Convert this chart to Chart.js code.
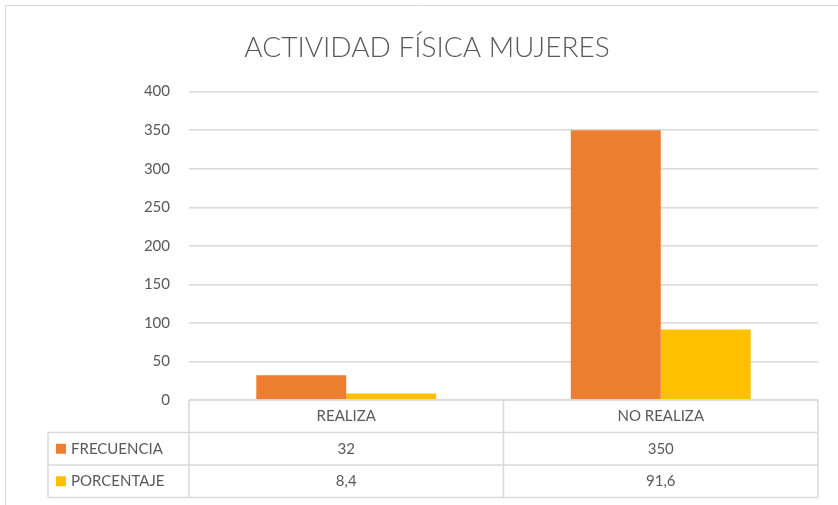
<!DOCTYPE html>
<html>
<head>
<meta charset="utf-8">
<script src="https://cdn.jsdelivr.net/npm/chart.js@4.4.0/dist/chart.umd.min.js"></script>
<style>
  html, body { margin: 0; padding: 0; background: #ffffff; }
  #wrap { width: 838px; height: 505px; position: relative; }
</style>
</head>
<body>
<div id="wrap"><canvas id="myChart" width="838" height="505"></canvas></div>
<script>
// Actividad fisica mujeres - grafico de barras con tabla de datos (estilo Excel)
const categories = ["REALIZA", "NO REALIZA"];
const frecuencia = [32, 350];
const porcentaje = [8.4, 91.6];
const frecuenciaText = ["32", "350"];
const porcentajeText = ["8,4", "91,6"];

const orange = "#ED7D31";
const yellow = "#FFC000";
const gridGray = "#D9D9D9";
const textGray = "#595959";
const fontName = "Lato";

Chart.defaults.font.family = fontName;
Chart.defaults.color = textGray;

// draws the Excel data table under the plot, using the x scale for the columns
const dataTable = {
    id: "dataTable",
    afterDraw(chart) {
        const ctx = chart.ctx;
        const x = chart.scales.x;
        const area = chart.chartArea;
        const rowH = 32.5;
        const top = area.bottom;
        const leftCol = 48;
        const half = (x.getPixelForValue(1) - x.getPixelForValue(0)) / 2;
        const edges = [area.left];
        categories.forEach((c, i) => edges.push(x.getPixelForValue(i) + half));

        ctx.save();
        ctx.strokeStyle = gridGray;
        ctx.lineWidth = 1.5;
        ctx.beginPath();
        // horizontal lines
        ctx.moveTo(area.left, top); ctx.lineTo(area.right, top);
        for (let r = 1; r <= 3; r++) {
            ctx.moveTo(leftCol, top + r * rowH); ctx.lineTo(area.right, top + r * rowH);
        }
        // vertical lines
        edges.forEach(e => { ctx.moveTo(e, top); ctx.lineTo(e, top + 3 * rowH); });
        ctx.moveTo(leftCol, top + rowH); ctx.lineTo(leftCol, top + 3 * rowH);
        ctx.stroke();

        ctx.fillStyle = textGray;
        ctx.font = "15px " + fontName;
        ctx.textAlign = "center";
        ctx.textBaseline = "middle";
        categories.forEach((c, i) => {
            const cx = x.getPixelForValue(i);
            ctx.fillText(c, cx, top + rowH * 0.5);
            ctx.fillText(frecuenciaText[i], cx, top + rowH * 1.5);
            ctx.fillText(porcentajeText[i], cx, top + rowH * 2.5);
        });

        // series names with colour keys
        ctx.textAlign = "left";
        chart.data.datasets.forEach((ds, j) => {
            const cy = top + rowH * (1.5 + j);
            ctx.fillStyle = ds.backgroundColor;
            ctx.fillRect(56, cy - 5, 10, 10);
            ctx.fillStyle = textGray;
            ctx.fillText(ds.label, 71, cy);
        });

        // outer chart border
        ctx.strokeStyle = gridGray;
        ctx.lineWidth = 1;
        ctx.beginPath();
        ctx.moveTo(5.5, 505); ctx.lineTo(5.5, 5.5); ctx.lineTo(838, 5.5);
        ctx.stroke();
        ctx.restore();
    }
};

const data = {
    labels: categories,
    datasets: [
        {
            label: "FRECUENCIA",
            data: frecuencia,
            backgroundColor: orange,
            categoryPercentage: 0.572,
            barPercentage: 1.0,
        },
        {
            label: "PORCENTAJE",
            data: porcentaje,
            backgroundColor: yellow,
            categoryPercentage: 0.572,
            barPercentage: 1.0,
        },
    ],
};

const config = {
    type: "bar",
    data: data,
    options: {
        responsive: false,
        animation: false,
        layout: {
            padding: { left: 36, right: 20, top: 0, bottom: 105 },
        },
        scales: {
            x: {
                display: false,
                grid: { display: false },
            },
            y: {
                min: 0,
                max: 400,
                afterFit: (scale) => { scale.width = 153; },
                border: { display: false },
                grid: {
                    color: gridGray,
                    lineWidth: 1.5,
                    drawTicks: false,
                },
                ticks: {
                    stepSize: 50,
                    padding: 19,
                    font: { size: 15 },
                    color: textGray,
                },
            },
        },
        plugins: {
            legend: { display: false },
            tooltip: { enabled: false },
            title: {
                display: true,
                text: "ACTIVIDAD FÍSICA MUJERES",
                color: textGray,
                font: { size: 28, weight: "300", family: fontName },
                padding: { top: 31, bottom: 27 },
            },
        },
    },
    plugins: [dataTable],
};

const myChart = new Chart(document.getElementById("myChart").getContext("2d"), config);
</script>
</body>
</html>
